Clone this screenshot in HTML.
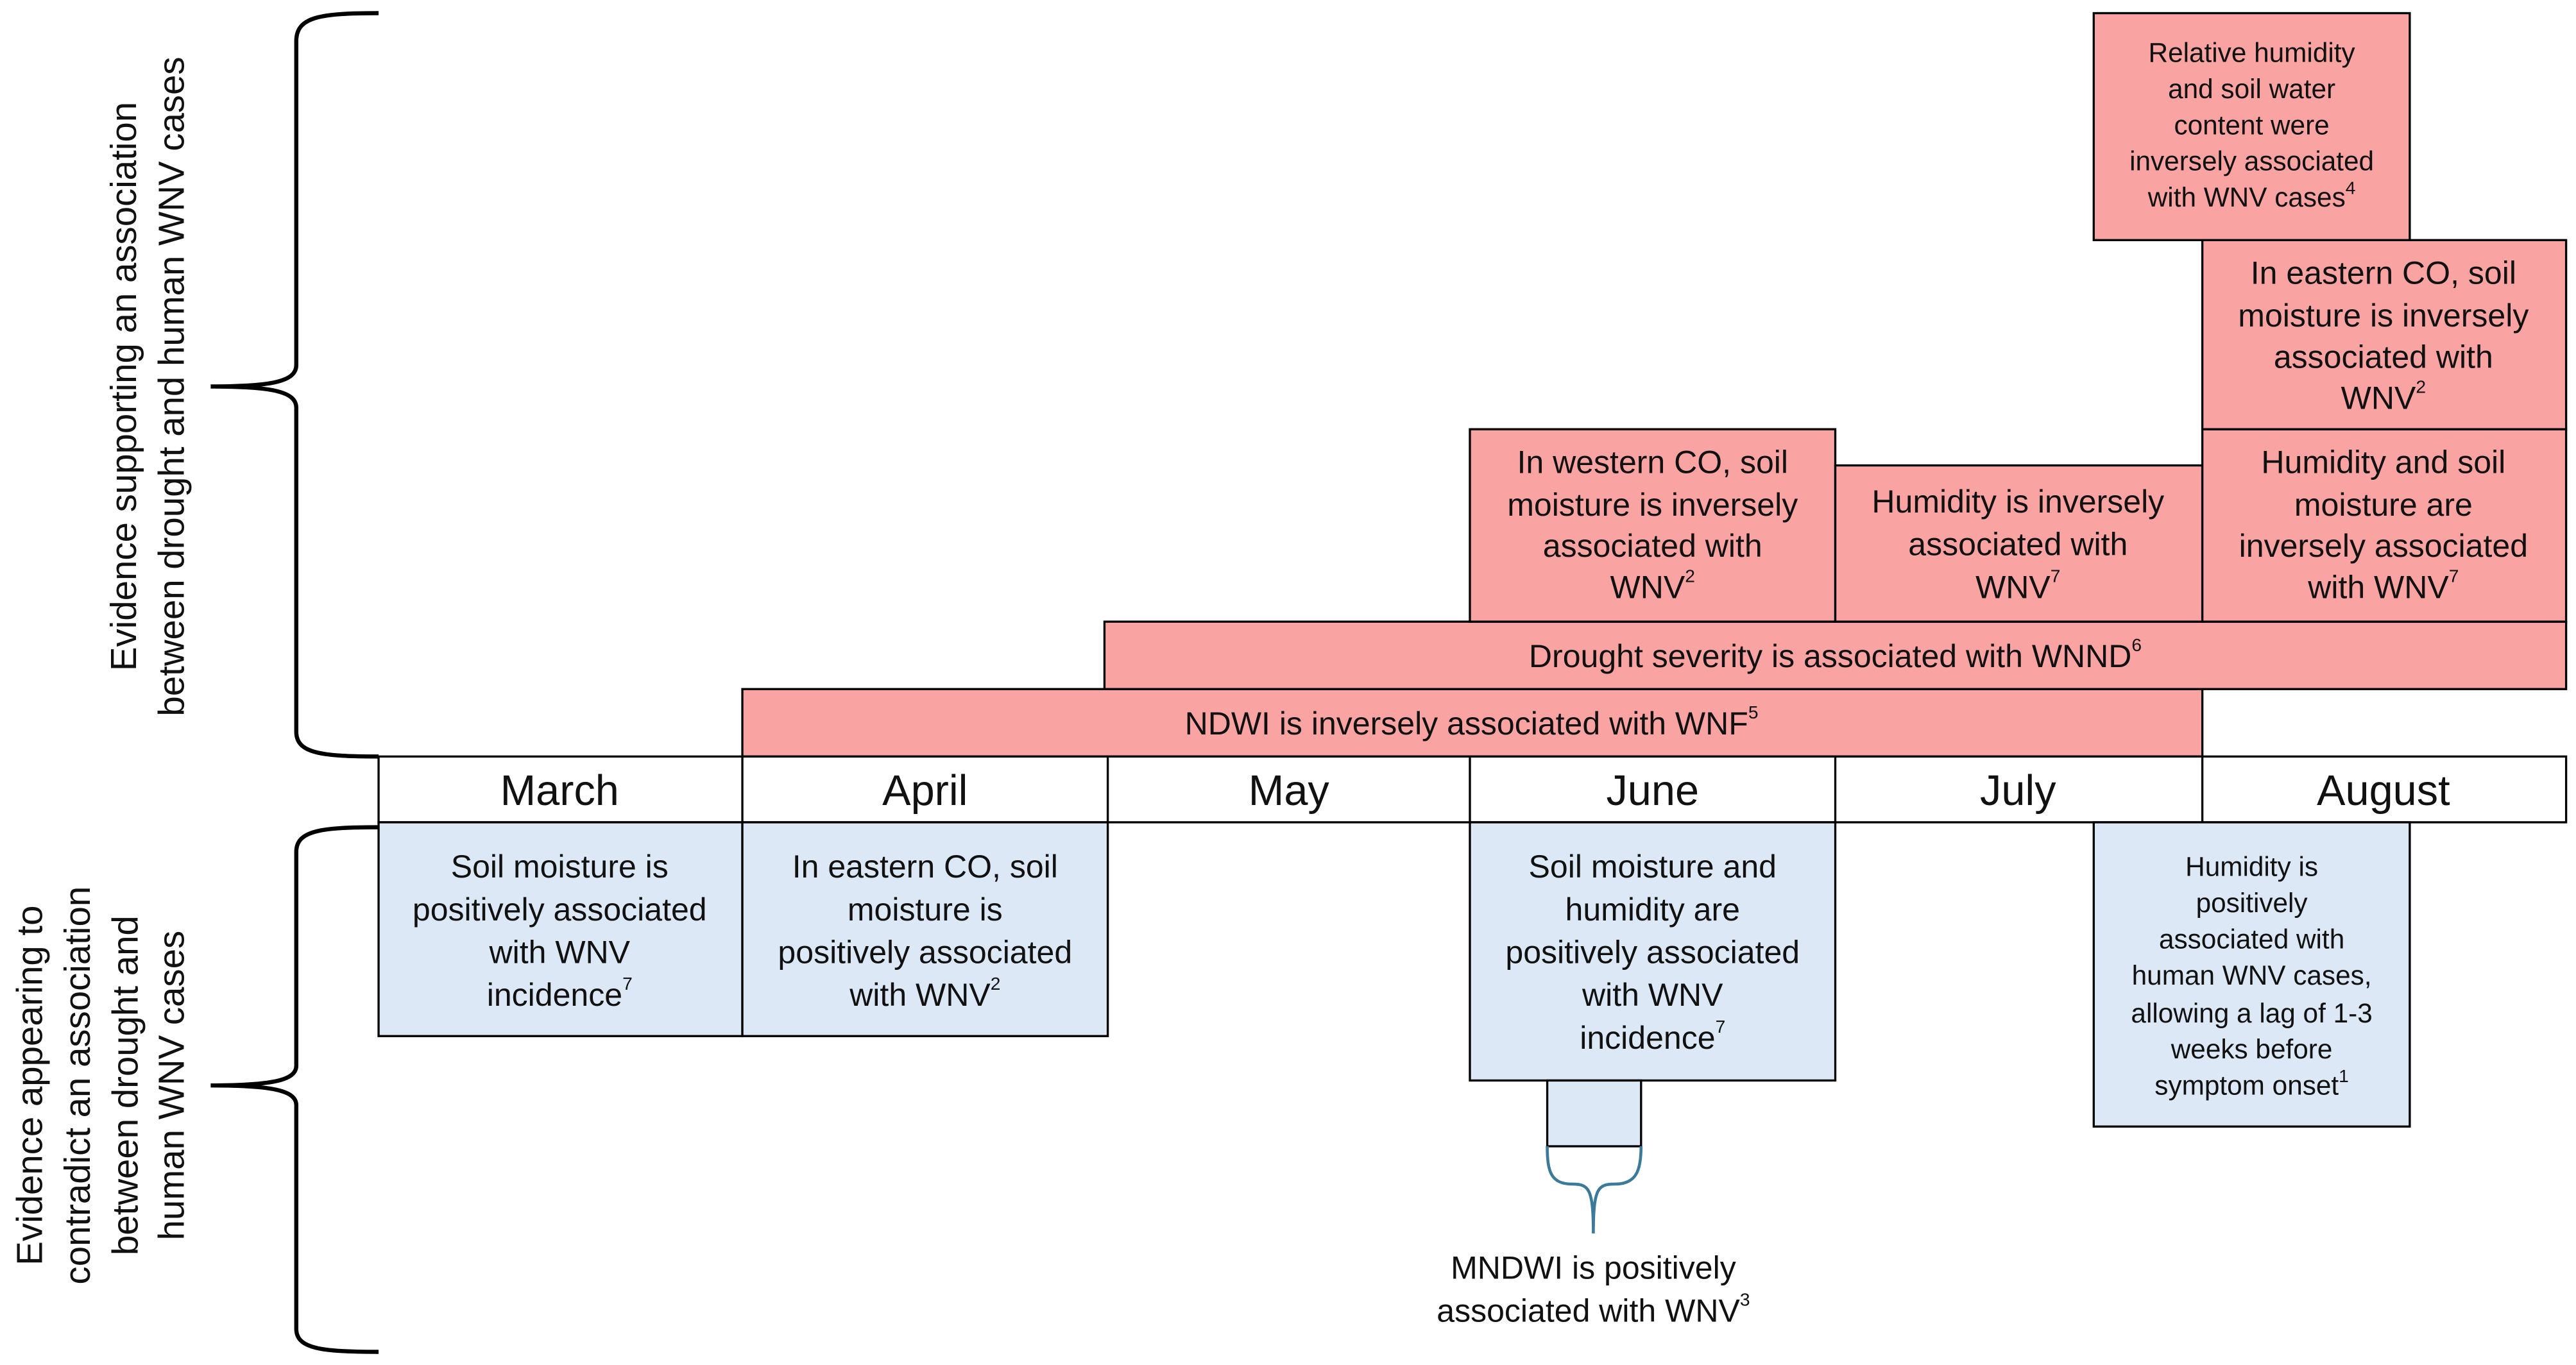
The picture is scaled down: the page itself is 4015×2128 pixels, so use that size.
<!DOCTYPE html>
<html><head><meta charset="utf-8"><style>html,body{margin:0;padding:0;background:#fff}svg{display:block}</style></head>
<body>
<svg width="4015" height="2128" viewBox="0 0 1565 830" preserveAspectRatio="none" xmlns="http://www.w3.org/2000/svg" font-family="Liberation Sans, Arial, sans-serif" text-anchor="middle">
<defs><style>.r{fill:#f9a3a3;stroke:#000;stroke-width:1.3}.b{fill:#dce8f5;stroke:#000;stroke-width:1.3}.m{fill:#fff;stroke:#000;stroke-width:1.3}text{dominant-baseline:central;fill:#111}.t{font-size:19.5px}.L{font-size:22px}.s{font-size:16.5px}.mo{font-size:26px}.sp{font-size:11px}</style></defs>
<path d="M230,8 C195,8 180,10 180,25 L180,222 C180,232 165,235 128,235 C165,235 180,238 180,248 L180,445 C180,458 195,460 230,460" fill="none" stroke="#000" stroke-width="2.5"/>
<path d="M230,503 C195,503 180,505 180,518 L180,648 C180,657 165,660 128,660 C165,660 180,663 180,672 L180,808 C180,820 195,822 230,822" fill="none" stroke="#000" stroke-width="2.5"/>
<g transform="rotate(-90)">
<text class="L" x="-235" y="75">Evidence supporting an association</text>
<text class="L" x="-235" y="104">between drought and human WNV cases</text>
<text class="L" x="-660" y="18">Evidence appearing to</text>
<text class="L" x="-660" y="47">contradict an association</text>
<text class="L" x="-660" y="76">between drought and</text>
<text class="L" x="-660" y="104">human WNV cases</text>
</g>
<rect class="r" x="451" y="419" width="887" height="41"/>
<text class="t" x="894" y="440">NDWI is inversely associated with WNF<tspan class="sp" dy="-7">5</tspan></text>
<rect class="r" x="671" y="378" width="888" height="41"/>
<text class="t" x="1115" y="399">Drought severity is associated with WNND<tspan class="sp" dy="-7">6</tspan></text>
<rect class="r" x="893" y="261" width="222" height="117"/>
<text class="t" x="1004" y="281">In western CO, soil</text>
<text class="t" x="1004" y="307">moisture is inversely</text>
<text class="t" x="1004" y="332">associated with</text>
<text class="t" x="1004" y="357">WNV<tspan class="sp" dy="-7">2</tspan></text>
<rect class="r" x="1115" y="283" width="223" height="95"/>
<text class="t" x="1226" y="305">Humidity is inversely</text>
<text class="t" x="1226" y="331">associated with</text>
<text class="t" x="1226" y="357">WNV<tspan class="sp" dy="-7">7</tspan></text>
<rect class="r" x="1338" y="261" width="221" height="117"/>
<text class="t" x="1448" y="281">Humidity and soil</text>
<text class="t" x="1448" y="307">moisture are</text>
<text class="t" x="1448" y="332">inversely associated</text>
<text class="t" x="1448" y="357">with WNV<tspan class="sp" dy="-7">7</tspan></text>
<rect class="r" x="1338" y="146" width="221" height="115"/>
<text class="t" x="1448" y="166">In eastern CO, soil</text>
<text class="t" x="1448" y="192">moisture is inversely</text>
<text class="t" x="1448" y="217">associated with</text>
<text class="t" x="1448" y="242">WNV<tspan class="sp" dy="-7">2</tspan></text>
<rect class="r" x="1272" y="8" width="192" height="138"/>
<text class="s" x="1368" y="32">Relative humidity</text>
<text class="s" x="1368" y="54">and soil water</text>
<text class="s" x="1368" y="76">content were</text>
<text class="s" x="1368" y="98">inversely associated</text>
<text class="s" x="1368" y="120">with WNV cases<tspan class="sp" dy="-6">4</tspan></text>
<rect class="m" x="230" y="460" width="1329" height="40"/>
<g stroke="#000" stroke-width="1.3"><line x1="451" y1="460" x2="451" y2="500"/><line x1="673" y1="460" x2="673" y2="500"/><line x1="893" y1="460" x2="893" y2="500"/><line x1="1115" y1="460" x2="1115" y2="500"/><line x1="1338" y1="460" x2="1338" y2="500"/></g>
<text class="mo" x="340" y="481">March</text>
<text class="mo" x="562" y="481">April</text>
<text class="mo" x="783" y="481">May</text>
<text class="mo" x="1004" y="481">June</text>
<text class="mo" x="1226" y="481">July</text>
<text class="mo" x="1448" y="481">August</text>
<rect class="b" x="230" y="500" width="221" height="130"/>
<text class="t" x="340" y="527">Soil moisture is</text>
<text class="t" x="340" y="553">positively associated</text>
<text class="t" x="340" y="579">with WNV</text>
<text class="t" x="340" y="605">incidence<tspan class="sp" dy="-7">7</tspan></text>
<rect class="b" x="451" y="500" width="222" height="130"/>
<text class="t" x="562" y="527">In eastern CO, soil</text>
<text class="t" x="562" y="553">moisture is</text>
<text class="t" x="562" y="579">positively associated</text>
<text class="t" x="562" y="605">with WNV<tspan class="sp" dy="-7">2</tspan></text>
<rect class="b" x="893" y="500" width="222" height="157"/>
<text class="t" x="1004" y="527">Soil moisture and</text>
<text class="t" x="1004" y="553">humidity are</text>
<text class="t" x="1004" y="579">positively associated</text>
<text class="t" x="1004" y="605">with WNV</text>
<text class="t" x="1004" y="631">incidence<tspan class="sp" dy="-7">7</tspan></text>
<rect class="b" x="940" y="657" width="57" height="40"/>
<rect class="b" x="1272" y="500" width="192" height="185"/>
<text class="s" x="1368" y="527">Humidity is</text>
<text class="s" x="1368" y="549">positively</text>
<text class="s" x="1368" y="571">associated with</text>
<text class="s" x="1368" y="593">human WNV cases,</text>
<text class="s" x="1368" y="616">allowing a lag of 1-3</text>
<text class="s" x="1368" y="638">weeks before</text>
<text class="s" x="1368" y="660">symptom onset<tspan class="sp" dy="-6">1</tspan></text>
<path d="M940,697 C940,712 942,720 955,720 C965,720 968,722 968,750 M968,750 C968,722 971,720 981,720 C994,720 997,712 997,697" fill="none" stroke="#3b7a9a" stroke-width="1.8"/>
<text class="t" x="968" y="771">MNDWI is positively</text>
<text class="t" x="968" y="797">associated with WNV<tspan class="sp" dy="-7">3</tspan></text>
</svg>
</body></html>
